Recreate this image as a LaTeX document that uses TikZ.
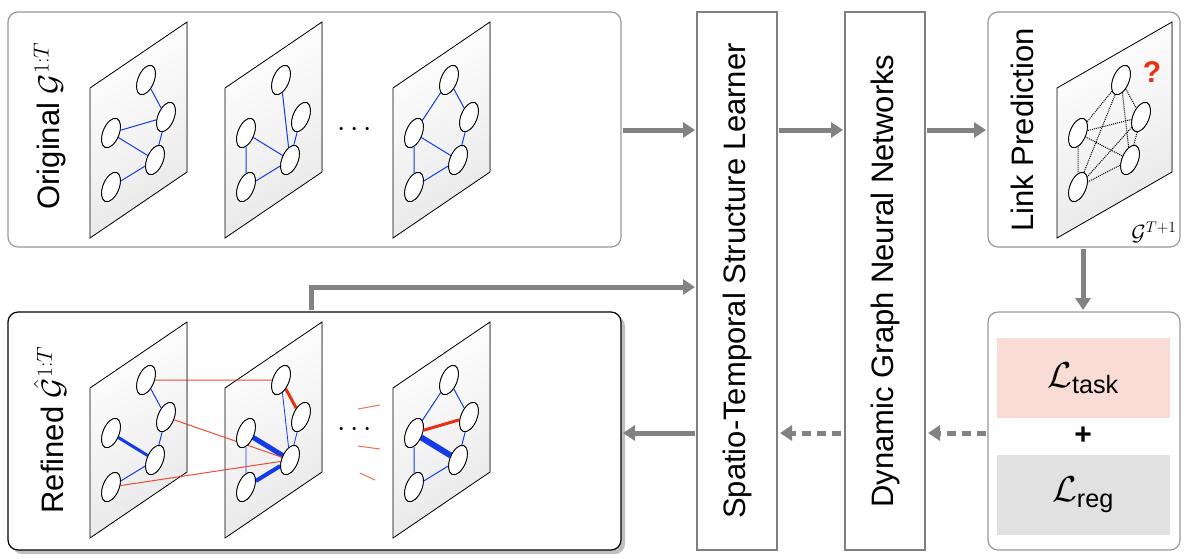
\RequirePackage{fix-cm}
\documentclass[tikz,border=0pt]{standalone}
\usepackage{amsmath}
\usepackage{fontspec}
\setmainfont{Liberation Sans}
\usepackage{tikz}
\usetikzlibrary{positioning, arrows.meta, calc, shapes.geometric}
\definecolor{edgecol}{RGB}{20,60,230}
\definecolor{newcol}{RGB}{230,50,20}
\definecolor{flowcol}{RGB}{130,130,130}
\definecolor{taskcol}{RGB}{250,220,215}
\definecolor{regcol}{RGB}{225,225,225}

% graph plane with five named nodes
\newcommand{\graphplane}[4]{%
  \fill[top color=white, bottom color=black!9, shading angle=30]
    (#2,#3+66) -- (#2+#4,#3) -- (#2+#4,#3+150) -- (#2,#3+216) -- cycle;
  \draw[thick] (#2,#3+66) -- (#2+#4,#3) -- (#2+#4,#3+150) -- (#2,#3+216) -- cycle;
  \coordinate (#1o) at (#2,#3);
}
\newcommand{\graphnodes}[2]{%
  \node[gnode] (#11) at ($(#1o)+(56+#2,58)$) {};
  \node[gnode] (#12) at ($(#1o)+(76+#2,95)$) {};
  \node[gnode] (#13) at ($(#1o)+(21,111)$) {};
  \node[gnode] (#14) at ($(#1o)+(65+#2,138)$) {};
  \node[gnode] (#15) at ($(#1o)+(21,165)$) {};
}

\begin{document}
\begin{tikzpicture}[
    x=1pt, y=-1pt,
    gnode/.style={ellipse, draw, thick, fill=white, inner sep=0pt,
      minimum width=16pt, minimum height=31pt, rotate=-22},
    link/.style={draw=edgecol, line width=1pt},
    newlink/.style={draw=newcol, line width=1pt},
    guess/.style={draw, densely dotted, line width=1pt},
    panel/.style={draw=black!40, line width=1.2pt, rounded corners=10pt},
    stage/.style={draw=black!50, line width=1.2pt, fill=white},
    title/.style={rotate=90, font=\fontsize{31}{36}\selectfont},
    flow/.style={draw=flowcol, line width=5pt,
      -{Triangle[length=12pt,width=15pt]}},
    backflow/.style={flow, dash pattern=on 9pt off 6pt}
  ]
  \useasboundingbox (0,0) rectangle (1188,558);

  % panels
  \draw[panel, fill=white] (8,12) rectangle (621,247);
  \fill[black!25, rounded corners=10pt] (12,316) rectangle (625,554);
  \draw[panel, draw=black, fill=white] (8,312) rectangle (621,550);
  \draw[panel, fill=white] (988,12) rectangle (1180,247);
  \draw[panel, fill=white] (988,312) rectangle (1180,550);

  \node[title] (orig) at (50,126) {Original $\mathcal{G}^{1:T}$};
  \node[title] (refd) at (50,430) {Refined $\hat{\mathcal{G}}^{1:T}$};
  \node[title] (pred) at (1022,130) {Link Prediction};

  % stages
  \draw[stage] (697,12) rectangle (777,550);
  \node[title] (stsl) at (737,281) {Spatio-Temporal Structure Learner};
  \draw[stage] (845,12) rectangle (925,550);
  \node[title] (dgnn) at (885,281) {Dynamic Graph Neural Networks};

  % planes
  \graphplane{a}{90}{22}{97}
  \graphplane{b}{225}{22}{97}
  \graphplane{c}{393}{22}{97}
  \graphplane{d}{90}{322}{97}
  \graphplane{e}{225}{322}{97}
  \graphplane{f}{393}{322}{97}
  \graphplane{p}{1057}{22}{115}
  \graphnodes{a}{0}
  \graphnodes{b}{0}
  \graphnodes{c}{0}
  \graphnodes{d}{0}
  \graphnodes{e}{0}
  \graphnodes{f}{0}
  \graphnodes{p}{8}

  % original edges
  \path[link] (a1) -- (a2) (a3) -- (a2) (a3) -- (a4) (a2) -- (a4) (a5) -- (a4);
  \path[link] (b1) -- (b4) (b2) -- (b4) (b3) -- (b4) (b3) -- (b5) (b5) -- (b4);
  \path[link] (c1) -- (c3) (c1) -- (c2) (c2) -- (c4) (c3) -- (c4) (c3) -- (c5) (c5) -- (c4);
  % refined edges
  \path[link] (d1) -- (d2) (d2) -- (d4) (d5) -- (d4);
  \path[link, line width=3pt] (d3) -- (d4);
  \path[link, line width=0.8pt] (e1) -- (e4) (e3) -- (e5) (e2) -- (e4);
  \path[link, line width=5pt] (e3) -- (e4);
  \path[link, line width=4pt] (e5) -- (e4);
  \path[newlink, line width=3pt] (e1) -- (e2);
  \path[link] (f1) -- (f3) (f1) -- (f2) (f2) -- (f4) (f3) -- (f5) (f5) -- (f4);
  \path[link, line width=6pt] (f3) -- (f4);
  \path[newlink, line width=3pt] (f3) -- (f2);
  \path[newlink, opacity=0.85] (d1) -- (e1) (d2) -- (e4) (d5) -- (e4);
  \path[newlink, opacity=0.7] (358,409) -- (380,405) (358,446) -- (380,449) (360,473) -- (375,480);
  % candidate links
  \foreach \i/\j in {1/2,1/3,1/4,1/5,2/3,2/4,2/5,3/4,3/5,4/5}
    \path[guess] (p\i) -- (p\j);
  \foreach \g in {a,b,c,d,e,f,p}
    \foreach \k in {1,...,5}
      \node[gnode] at (\g\k) {};
  \node[text=newcol, font=\fontsize{30}{34}\selectfont\bfseries] (qm) at (1152,72) {?};
  \node[font=\fontsize{22}{26}\selectfont, anchor=south east] (gnext) at (1180,246) {$\mathcal{G}^{T+1}$};

  \node[font=\fontsize{30}{34}\selectfont] (dots1) at (357,130) {$\cdots$};
  \node[font=\fontsize{30}{34}\selectfont] (dots2) at (357,430) {$\cdots$};

  % losses
  \node[fill=taskcol, minimum width=173pt, minimum height=80pt,
    font=\fontsize{36}{40}\selectfont] (task) at (1083,378) {$\mathcal{L}_{\text{task}}$};
  \node[font=\fontsize{30}{34}\selectfont\bfseries] (plus) at (1083,436) {+};
  \node[fill=regcol, minimum width=173pt, minimum height=80pt,
    font=\fontsize{36}{40}\selectfont] (reg) at (1083,495) {$\mathcal{L}_{\text{reg}}$};

  % flow
  \coordinate (up) at (311,287);
  \draw[flow] (623,130) -- (695,130);
  \draw[flow] (779,130) -- (843,130);
  \draw[flow] (927,130) -- (986,130);
  \draw[flow] (1083,249) -- (1083,310);
  \draw[flow] (311,310) -- (up) -- (695,287);
  \draw[flow] (695,433) -- (623,433);
  \draw[backflow] (986,433) -- (928,433);
  \draw[backflow] (841,433) -- (780,433);
\end{tikzpicture}
\end{document}
